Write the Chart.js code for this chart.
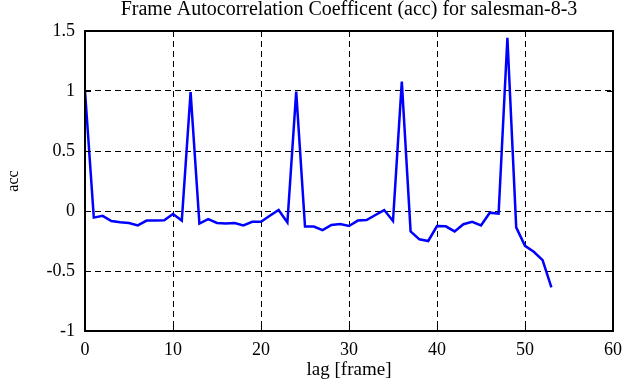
<!DOCTYPE html>
<html>
<head>
<meta charset="utf-8">
<script src="https://cdn.jsdelivr.net/npm/chart.js@4/dist/chart.umd.min.js"></script>
<style>
  html, body { margin: 0; padding: 0; background: #fff; }
  canvas { display: block; }
</style>
</head>
<body>
<canvas id="acc" width="635" height="387"></canvas>
<script>
// lag in frames, one value per frame
const lags = [];
for (let i = 0; i <= 53; i++) lags.push(i);

const accValues = [
  1.0, -0.055, -0.04, -0.083, -0.094, -0.1, -0.12, -0.08, -0.08, -0.078,
  -0.025, -0.08, 0.99, -0.105, -0.067, -0.1, -0.105, -0.1, -0.12, -0.09,
  -0.09, -0.04, 0.008, -0.095, 0.995, -0.13, -0.13, -0.16, -0.117, -0.108,
  -0.125, -0.08, -0.075, -0.033, 0.008, -0.083, 1.078, -0.17, -0.236, -0.25,
  -0.125, -0.128, -0.17, -0.11, -0.09, -0.12, -0.014, -0.022, 1.444, -0.136,
  -0.29, -0.34, -0.41, -0.636
];

const xTicks = [0, 10, 20, 30, 40, 50, 60];
const yTicks = [-1, -0.5, 0, 0.5, 1, 1.5];

const serif = 'Liberation Serif';

// solid box round the plot plus small inward ticks
const boxPlugin = {
  id: 'box',
  afterDraw(chart) {
    const { ctx, chartArea: a, scales } = chart;
    ctx.save();
    ctx.strokeStyle = '#000';
    ctx.lineWidth = 1;
    ctx.beginPath();
    xTicks.forEach(v => {
      const px = Math.round(scales.x.getPixelForValue(v)) + 0.5;
      ctx.moveTo(px, a.top); ctx.lineTo(px, a.top + 6);
      ctx.moveTo(px, a.bottom); ctx.lineTo(px, a.bottom - 6);
    });
    yTicks.forEach(v => {
      const py = Math.round(scales.y.getPixelForValue(v)) + 0.5;
      ctx.moveTo(a.left, py); ctx.lineTo(a.left + 6, py);
      ctx.moveTo(a.right, py); ctx.lineTo(a.right - 6, py);
    });
    ctx.stroke();
    ctx.lineWidth = 2;
    ctx.strokeRect(a.left, a.top, a.right - a.left, a.bottom - a.top);
    ctx.restore();
  }
};

new Chart(document.getElementById('acc'), {
  type: 'line',
  data: {
    datasets: [{
      data: lags.map((l, i) => ({ x: l, y: accValues[i] })),
      borderColor: 'rgb(0,0,255)',
      borderWidth: 2.5,
      pointRadius: 0,
      tension: 0,
      fill: false
    }]
  },
  options: {
    responsive: false,
    animation: false,
    layout: { padding: { left: 0, right: 22, top: 0, bottom: 0 } },
    plugins: {
      legend: { display: false },
      tooltip: { enabled: false },
      title: {
        display: true,
        text: 'Frame Autocorrelation Coefficent (acc) for salesman-8-3',
        fullSize: false,
        color: '#000',
        font: { family: serif, size: 20, weight: 'normal', lineHeight: 1 },
        padding: { top: 0, bottom: 11 }
      }
    },
    scales: {
      x: {
        type: 'linear',
        min: 0, max: 60,
        afterFit(s) { s.height = 56; },
        afterBuildTicks(s) { s.ticks = xTicks.map(v => ({ value: v })); },
        ticks: {
          color: '#000', font: { family: serif, size: 18 }, padding: 8, maxRotation: 0,
          callback: v => String(v)
        },
        grid: { color: '#000', lineWidth: 1, drawTicks: false },
        border: { display: false, dash: [6, 4] },
        title: {
          display: true, text: 'lag [frame]', color: '#000',
          font: { family: serif, size: 19 }, padding: { top: 0, bottom: 6 }
        }
      },
      y: {
        min: -1, max: 1.5,
        afterFit(s) { s.width = 85; },
        afterBuildTicks(s) { s.ticks = yTicks.map(v => ({ value: v })); },
        ticks: {
          color: '#000', font: { family: serif, size: 18 }, padding: 10,
          callback: v => String(v)
        },
        grid: { color: '#000', lineWidth: 1, drawTicks: false },
        border: { display: false, dash: [6, 4] },
        title: {
          display: true, text: 'acc', color: '#000',
          font: { family: serif, size: 16 }, padding: { top: 4, bottom: 0 }
        }
      }
    }
  },
  plugins: [boxPlugin]
});
</script>
</body>
</html>
